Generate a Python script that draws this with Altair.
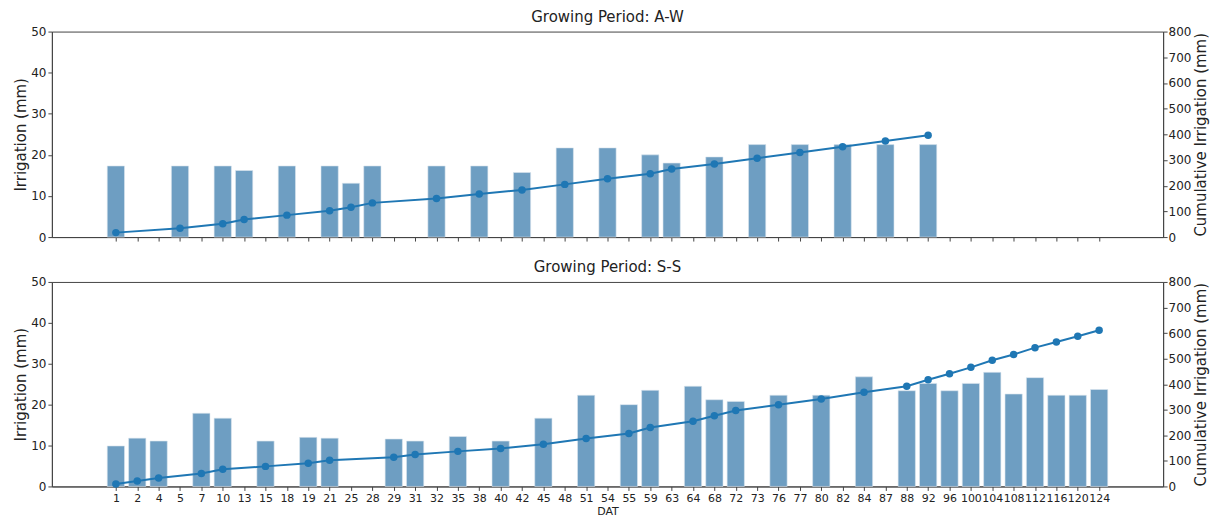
import altair as alt
import pandas as pd

# x categories (DAT) shared by both panels
all_days = [1, 2, 4, 5, 7, 10, 13, 15, 18, 19, 21, 25, 28, 29, 31, 32, 35, 38, 40, 42,
            45, 48, 51, 54, 55, 59, 63, 64, 68, 72, 73, 76, 77, 80, 82, 84, 87, 88, 92,
            96, 100, 104, 108, 112, 116, 120, 124]

# Growing period A-W
aw_days = [1, 5, 10, 13, 18, 21, 25, 28, 32, 38, 42, 48, 54, 59, 63, 68, 73, 77, 82, 87, 92]
aw_irr = [17.3, 17.3, 17.3, 16.2, 17.3, 17.3, 13.1, 17.3, 17.3, 17.3, 15.7, 21.7, 21.7,
          20.0, 18.0, 19.5, 22.5, 22.5, 22.5, 22.5, 22.5]
aw_cum = [17.3, 34.6, 51.9, 68.1, 85.4, 102.7, 115.8, 133.1, 150.4, 167.7, 183.4, 205.1,
          226.8, 246.8, 264.8, 284.3, 306.8, 329.3, 351.8, 374.3, 396.8]

# Growing period S-S
ss_days = [1, 2, 4, 7, 10, 15, 19, 21, 29, 31, 35, 40, 45, 51, 55, 59, 64, 68, 72, 76, 80,
           84, 88, 92, 96, 100, 104, 108, 112, 116, 120, 124]
ss_irr = [9.9, 11.8, 11.1, 17.9, 16.7, 11.1, 12.0, 11.8, 11.6, 11.1, 12.2, 11.1, 16.7, 22.3,
          20.0, 23.5, 24.5, 21.2, 20.8, 22.3, 22.3, 26.8, 23.4, 25.2, 23.4, 25.2, 27.9, 22.6,
          26.6, 22.3, 22.3, 23.7]
ss_cum = [9.9, 21.7, 32.8, 50.7, 67.4, 78.5, 90.5, 102.3, 113.9, 125.0, 137.2, 148.3, 165.0,
          187.3, 207.3, 230.8, 255.3, 276.5, 297.3, 319.6, 341.9, 368.7, 392.1, 417.3, 440.7,
          465.9, 493.8, 516.4, 543.0, 565.3, 587.6, 611.3]

left_ticks = [0, 10, 20, 30, 40, 50]
right_ticks = [0, 100, 200, 300, 400, 500, 600, 700, 800]

label_expr = "[" + ",".join("'%d'" % d for d in all_days) + "][datum.value]"

BAR_COLOR = "#6e9ec2"
LINE_COLOR = "#1f77b4"
PLOT_W = 1114


def panel(days, irr, cum, title, bottom, height):
    df = pd.DataFrame({
        "pos": [all_days.index(d) for d in days],
        "day": days,
        "irr": irr,
        "cum": cum,
    })
    xscale = alt.Scale(domain=[-2.76, 48.76], nice=False, zero=False)

    def xaxis():
        return alt.Axis(
            values=list(range(len(all_days))),
            labelExpr=label_expr,
            labelOverlap=False,
            labelAngle=0,
            labels=bottom,
            labelFontSize=11,
            labelPadding=2,
            title="DAT" if bottom else None,
            titleFontSize=11,
            titleFontWeight="normal",
            titlePadding=2,
        )

    bars = alt.Chart(df).mark_bar(size=17.3, color=BAR_COLOR, stroke="#dbe6ef",
                                  strokeWidth=0.6).encode(
        x=alt.X("pos:Q", scale=xscale, axis=xaxis()),
        y=alt.Y("irr:Q", scale=alt.Scale(domain=[0, 50], nice=False),
                axis=alt.Axis(values=left_ticks, title="Irrigation (mm)", orient="left",
                              labelFontSize=12, titleFontSize=15, titleFontWeight="normal",
                              labelPadding=2, titlePadding=2)),
    )
    line = alt.Chart(df).mark_line(
        color=LINE_COLOR, strokeWidth=2,
        point=alt.OverlayMarkDef(filled=True, size=56, color=LINE_COLOR, opacity=1),
    ).encode(
        x=alt.X("pos:Q", scale=xscale, axis=xaxis()),
        y=alt.Y("cum:Q", scale=alt.Scale(domain=[0, 800], nice=False),
                axis=alt.Axis(values=right_ticks, title="Cumulative Irrigation (mm)",
                              orient="right", labelFontSize=12, titleFontSize=15,
                              titleFontWeight="normal", labelPadding=1, titlePadding=3,
                              titleAngle=270, titleBaseline="top")),
    )
    return alt.layer(bars, line).resolve_scale(y="independent").properties(
        width=PLOT_W, height=height,
        title=alt.TitleParams(title, fontSize=15, fontWeight="normal", offset=1,
                              anchor="middle", font="DejaVu Sans", color="#222"),
    )


top = panel(aw_days, aw_irr, aw_cum, "Growing Period: A-W", False, 206)
bot = panel(ss_days, ss_irr, ss_cum, "Growing Period: S-S", True, 205)

chart = alt.vconcat(top, bot, spacing=15).properties(
    padding={"left": 5, "top": 0, "right": 2, "bottom": 0},
).configure_axis(
    labelFont="DejaVu Sans", titleFont="DejaVu Sans",
    labelColor="#222", titleColor="#222",
    domainColor="#444", tickColor="#444", tickSize=4, grid=False,
).configure_view(stroke="#444")

chart.save("out.html", embed_options={"renderer": "svg", "actions": False})
